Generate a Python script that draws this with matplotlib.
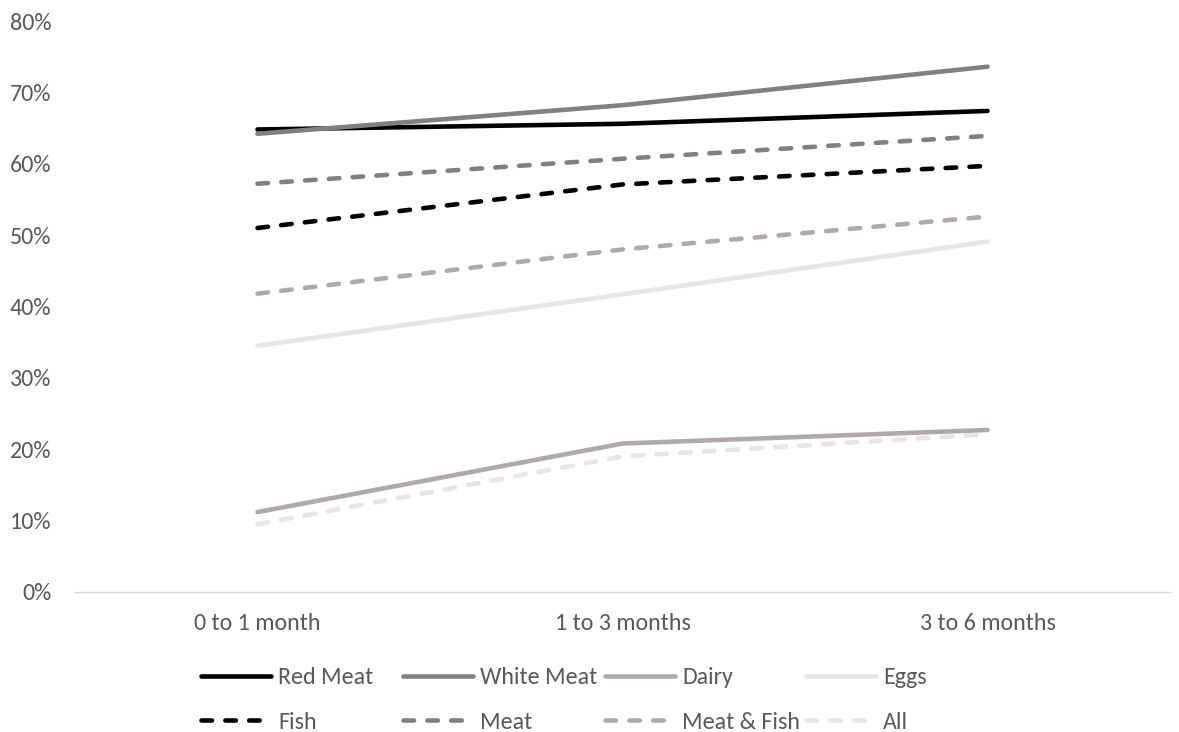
import matplotlib
matplotlib.use("Agg")
import matplotlib.pyplot as plt
from matplotlib import font_manager
from matplotlib.ticker import FuncFormatter, MultipleLocator

# ---------------- data ----------------
categories = ["0 to 1 month", "1 to 3 months", "3 to 6 months"]
series_names = ["Red Meat", "White Meat", "Dairy", "Eggs",
                "Fish", "Meat", "Meat & Fish", "All"]
red_meat = [64.8, 65.6, 67.4]
white_meat = [64.2, 68.2, 73.6]
dairy = [11.2, 20.8, 22.7]
eggs = [34.5, 41.7, 49.1]
fish = [51.0, 57.1, 59.7]
meat = [57.2, 60.7, 63.9]
meat_fish = [41.8, 48.0, 52.6]
all_foods = [9.5, 19.0, 22.1]

# ---------------- styles ----------------
def pick_font(cands):
    for c in cands:
        try:
            font_manager.findfont(c, fallback_to_default=False)
            return c
        except Exception:
            pass
    return "DejaVu Sans"

FONT = pick_font(["Carlito", "Liberation Sans Narrow", "Roboto"])
plt.rcParams["font.family"] = [FONT, "DejaVu Sans"]

FS = 17.3
TXT = "#595959"
colors = ["#000000", "#808080", "#AEAAAA", "#E7E6E6",
          "#000000", "#808080", "#AEAAAA", "#E7E6E6"]
dashed = [False, False, False, False, True, True, True, True]
LW = 3.3
DASH = (2.3, 2.9)

values = [red_meat, white_meat, dairy, eggs, fish, meat, meat_fish, all_foods]

fig = plt.figure(figsize=(11.79, 7.32), dpi=100)
ax = fig.add_axes([75 / 1179, 1 - 592 / 732, (1170 - 75) / 1179, (592 - 21) / 732])

x = list(range(len(categories)))
handles = []
for name, vals, c, d in zip(series_names, values, colors, dashed):
    kw = dict(color=c, lw=LW, solid_capstyle="round", dash_capstyle="round",
              solid_joinstyle="round")
    if d:
        kw["dashes"] = DASH
    ln, = ax.plot(x, vals, label=name, **kw)
    handles.append(ln)

ax.set_xlim(-0.5, 2.5)
ax.set_ylim(0, 80)
ax.set_xticks(x)
ax.set_xticklabels(categories)
ax.yaxis.set_major_locator(MultipleLocator(10))
ax.yaxis.set_major_formatter(FuncFormatter(lambda v, p: f"{v:.0f}%"))

for s in ["top", "right", "left"]:
    ax.spines[s].set_visible(False)
ax.spines["bottom"].set_color("#D9D9D9")
ax.spines["bottom"].set_linewidth(1.0)
ax.tick_params(axis="both", length=0, labelsize=FS, labelcolor=TXT)
ax.tick_params(axis="y", pad=17)
ax.tick_params(axis="x", pad=15)

# ---------------- legend: four columns, two rows ----------------
col_x = [201, 403, 605, 806]
for i, cx in enumerate(col_x):
    hs = [handles[i], handles[i + 4]]
    leg = fig.legend(hs, [h.get_label() for h in hs], loc="upper left",
                     bbox_to_anchor=(cx / 1179, 1 - 667 / 732),
                     frameon=False, fontsize=FS, handlelength=2.9,
                     handletextpad=0.3, labelspacing=0.98, borderpad=0,
                     borderaxespad=0)
    for t in leg.get_texts():
        t.set_color(TXT)

fig.savefig("out.png", dpi=100)
